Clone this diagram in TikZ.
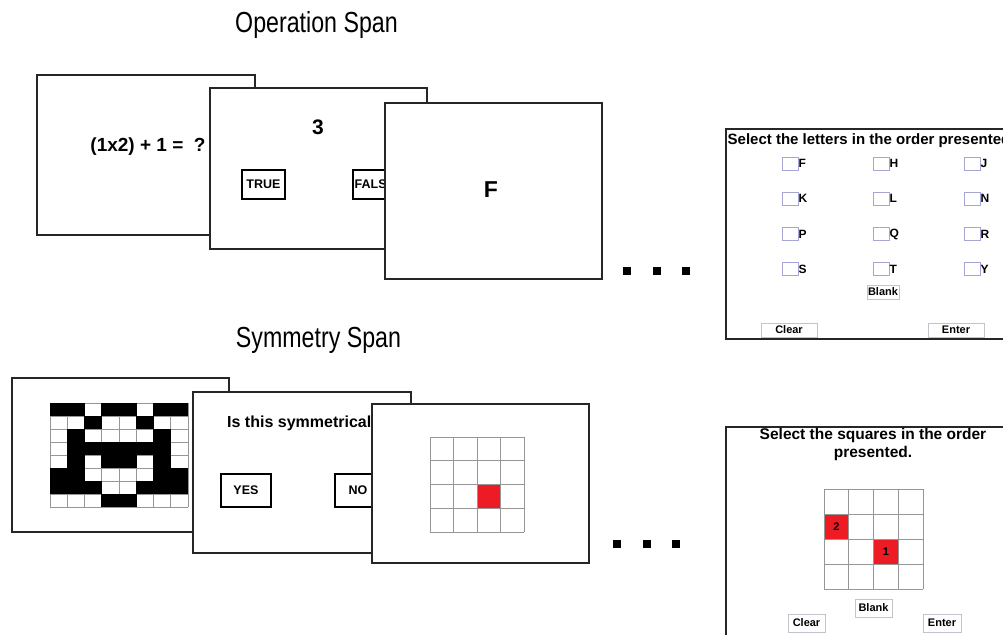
\documentclass[tikz,border=0pt]{standalone}
\usepackage{fontspec}
\setmainfont{Liberation Sans}
\newfontfamily\condfont{Liberation Sans}[FakeStretch=0.8]
\definecolor{redsq}{RGB}{237,28,36}
\definecolor{cbox}{RGB}{165,165,215}
\definecolor{btn}{RGB}{195,195,205}
\definecolor{gline}{RGB}{150,150,150}
\begin{document}
\begin{tikzpicture}[x=1pt,y=-1pt,
  panel/.style={draw=black!85,line width=1.4pt,fill=white},
  bigbtn/.style={draw=black,line width=2.8pt,fill=white},
  smallbtn/.style={draw=btn,line width=0.9pt,fill=white},
  chk/.style={draw=cbox,line width=0.9pt,fill=white},
  title/.style={font=\condfont\fontsize{29}{30}\selectfont,inner sep=0pt,anchor=base},
  lbl/.style={font=\bfseries\fontsize{11}{12}\selectfont,inner sep=0pt},
  let/.style={font=\bfseries\fontsize{12}{13}\selectfont,inner sep=0pt},
  dot/.style={fill=black}]
\useasboundingbox (0,0) rectangle (1003,634);
\clip (0,0) rectangle (1003,634);
\fill[white] (0,0) rectangle (1003,634);

% titles
\node[title] (optitle) at (316.5,33) {Operation Span};
\node[title] (symtitle) at (318.5,347) {Symmetry Span};

% ---------- Operation span panels ----------
\draw[panel] (37,75) rectangle (255,235);
\node[font=\bfseries\fontsize{19}{20}\selectfont,inner sep=0pt] (eq) at (148,147) {(1x2) + 1 =\ \ ?};

\draw[panel] (210,88) rectangle (427,249);
\node[font=\bfseries\fontsize{21}{22}\selectfont,inner sep=0pt] (three) at (318,127) {3};
\draw[bigbtn] (242,170) rectangle (285,199);
\node[font=\bfseries\fontsize{12.5}{13}\selectfont,inner sep=0pt] (true) at (263.5,184.5) {TRUE};
\draw[bigbtn] (353,170) rectangle (400,199);
\node[font=\bfseries\fontsize{12.5}{13}\selectfont,inner sep=0pt,anchor=west] (false) at (354.5,184.5) {FALSE};

\draw[panel] (385,103) rectangle (602,279);
\node[font=\bfseries\fontsize{23}{24}\selectfont,inner sep=0pt] (F) at (491,190) {F};

\fill[dot] (623,267) rectangle (631,275);
\fill[dot] (653,267) rectangle (661,275);
\fill[dot] (682,267) rectangle (690,275);

% letter recall panel
\draw[panel] (726,129) rectangle (1015,339);
\begin{scope}
\clip (726,129) rectangle (1003,339);
\node[font=\bfseries\fontsize{15}{16}\selectfont,inner sep=0pt,anchor=west] (seltitle) at (727.5,140.5) {Select the letters in the order presented};
\end{scope}
\foreach \lx/\ly/\lt [count=\i] in {782/163.5/F,873/163.5/H,964/163.5/J,
                          782/198.5/K,873/198.5/L,964/198.5/N,
                          782/234/P,873/234/Q,964/234/R,
                          782/269/S,873/269/T,964/269/Y}{
  \draw[chk] (\lx,\ly-6.5) rectangle (\lx+16,\ly+6.5);
  \node[let,anchor=west] (let\i) at (\lx+16.5,\ly) {\lt};
}
\draw[smallbtn] (867,285) rectangle (899,299);
\node[lbl] (blank1) at (883,292) {Blank};
\draw[smallbtn] (761,323) rectangle (817,337);
\node[lbl] (clear1) at (789,330) {Clear};
\draw[smallbtn] (928,323) rectangle (984,337);
\node[lbl] (enter1) at (956,330) {Enter};

% ---------- Symmetry span panels ----------
\draw[panel] (12,378) rectangle (229,532);
% symmetry grid
\fill[white] (50,403) rectangle (188,507);
\foreach \i in {0,...,8}{
  \draw[gline,line width=0.9pt] (50+\i*17.25,403) -- (50+\i*17.25,507);
  \draw[gline,line width=0.9pt] (50,403+\i*13) -- (188,403+\i*13);
}
\foreach \c/\r in {1/1,2/1,4/1,5/1,7/1,8/1,
                   3/2,6/2,
                   2/3,7/3,
                   2/4,3/4,4/4,5/4,6/4,7/4,
                   2/5,4/5,5/5,7/5,
                   1/6,2/6,7/6,8/6,
                   1/7,2/7,3/7,6/7,7/7,8/7,
                   4/8,5/8}{
  \fill[black] (50+\c*17.25-17.25-0.3,403+\r*13-13-0.3) rectangle (50+\c*17.25+0.3,403+\r*13+0.3);
}

\draw[panel] (193,392) rectangle (411,553);
\node[font=\bfseries\fontsize{16}{17}\selectfont,inner sep=0pt,anchor=west] (symq) at (227,423) {Is this symmetrical?};
\draw[bigbtn] (221,474) rectangle (271,507);
\node[font=\bfseries\fontsize{12.5}{13}\selectfont,inner sep=0pt] (yes) at (246,490.5) {YES};
\draw[bigbtn] (335,474) rectangle (385,507);
\node[font=\bfseries\fontsize{12.5}{13}\selectfont,inner sep=0pt] (no) at (358,490.5) {NO};

\draw[panel] (372,404) rectangle (589,563);
\fill[redsq] (477,484) rectangle (500.5,508);
\foreach \i in {0,...,4}{
  \draw[gline,line width=0.9pt] (430+\i*23.5,437) -- (430+\i*23.5,532);
  \draw[gline,line width=0.9pt] (430,437+\i*23.75) -- (524,437+\i*23.75);
}

\fill[dot] (613,540) rectangle (621,548);
\fill[dot] (643,540) rectangle (651,548);
\fill[dot] (672,540) rectangle (680,548);

% square recall panel
\draw[panel] (726,427) rectangle (1015,645);
\node[font=\bfseries\fontsize{15.5}{18}\selectfont,inner sep=0pt,align=center] (sqtitle) at (873,444) {Select the squares in the order\\presented.};
\fill[redsq] (824,514) rectangle (848.75,539);
\node[font=\bfseries\fontsize{11}{12}\selectfont,inner sep=0pt] (two) at (836.4,526.5) {2};
\fill[redsq] (873.5,539) rectangle (898.25,564);
\node[font=\bfseries\fontsize{11}{12}\selectfont,inner sep=0pt] (one) at (885.9,551.5) {1};
\foreach \i in {0,...,4}{
  \draw[gline,line width=0.9pt] (824+\i*24.75,489) -- (824+\i*24.75,589);
  \draw[gline,line width=0.9pt] (824,489+\i*25) -- (923,489+\i*25);
}
\draw[smallbtn] (855,599) rectangle (892,617);
\node[lbl] (blank2) at (873.5,608) {Blank};
\draw[smallbtn] (788,614) rectangle (825,632);
\node[lbl] (clear2) at (806.5,623) {Clear};
\draw[smallbtn] (923,614) rectangle (961,632);
\node[lbl] (enter2) at (942,623) {Enter};
\end{tikzpicture}
\end{document}
